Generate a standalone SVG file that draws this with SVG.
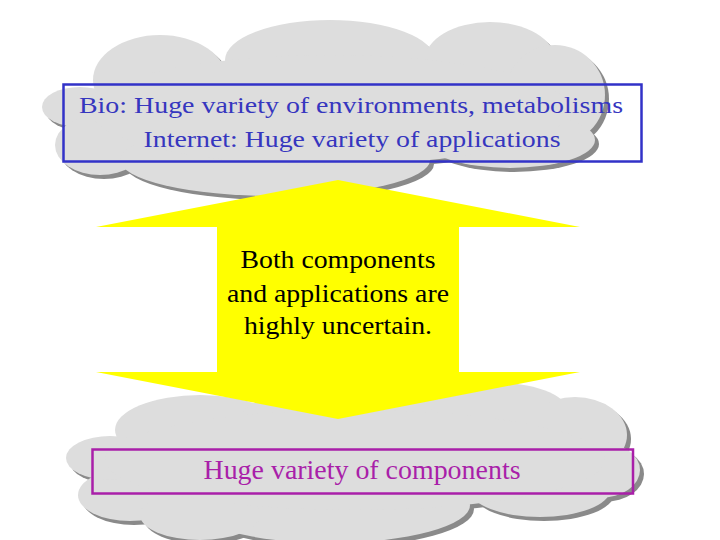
<svg xmlns="http://www.w3.org/2000/svg" width="720" height="540" viewBox="0 0 720 540">
<style>
.serif{font-family:"Liberation Serif","Times New Roman",serif;text-anchor:middle}
.blue{fill:#3636bf}
.mag{fill:#a91fa9}
.blk{fill:#000}
</style>
<defs>
<g id="topCloudShape">
<ellipse cx="80" cy="107" rx="38" ry="20"/>
<ellipse cx="100" cy="145" rx="45" ry="30"/>
<ellipse cx="160" cy="80" rx="67" ry="45"/>
<ellipse cx="330" cy="60" rx="105" ry="40"/>
<ellipse cx="490" cy="60" rx="65" ry="38"/>
<ellipse cx="555" cy="95" rx="50" ry="50"/>
<ellipse cx="510" cy="140" rx="85" ry="28"/>
<ellipse cx="275" cy="160" rx="155" ry="36"/>
<ellipse cx="330" cy="110" rx="240" ry="55"/>
</g>
<g id="bottomCloudShape">
<ellipse cx="200" cy="430" rx="85" ry="35"/>
<ellipse cx="350" cy="420" rx="110" ry="35"/>
<ellipse cx="500" cy="415" rx="70" ry="32"/>
<ellipse cx="575" cy="435" rx="52" ry="38"/>
<ellipse cx="600" cy="470" rx="40" ry="28"/>
<ellipse cx="540" cy="490" rx="70" ry="27"/>
<ellipse cx="330" cy="505" rx="140" ry="38"/>
<ellipse cx="130" cy="495" rx="52" ry="26"/>
<ellipse cx="110" cy="458" rx="44" ry="22"/>
<ellipse cx="200" cy="515" rx="60" ry="25"/>
<ellipse cx="355" cy="460" rx="250" ry="50"/>
</g>
</defs>
<rect width="720" height="540" fill="#ffffff"/>

<g id="cloud-top">
<use href="#topCloudShape" fill="#8a8a8a" transform="translate(4,4)"/>
<use href="#topCloudShape" fill="#dddddd"/>
</g>

<g id="cloud-bottom">
<use href="#bottomCloudShape" fill="#8a8a8a" transform="translate(4,4)"/>
<use href="#bottomCloudShape" fill="#dddddd"/>
</g>

<g id="connectors">
<g id="double-arrow">
<polygon points="338,180 580,227 459,227 459,372 580,372 338,419 96,372 217,372 217,227 96,227" fill="#ffff00"/>
</g>
</g>

<g id="arrow-label">
<text class="serif blk" x="338" y="268" font-size="25" textLength="195" lengthAdjust="spacingAndGlyphs">Both components</text>
<text class="serif blk" x="338" y="302" font-size="25" textLength="222" lengthAdjust="spacingAndGlyphs">and applications are</text>
<text class="serif blk" x="338" y="334" font-size="25" textLength="188" lengthAdjust="spacingAndGlyphs">highly uncertain.</text>
</g>

<g id="applications-box">
<rect x="63.5" y="84.5" width="578" height="77" fill="none" stroke="#3232c8" stroke-width="2.5"/>
<text class="serif blue" x="351" y="113" font-size="24" textLength="544" lengthAdjust="spacingAndGlyphs">Bio: Huge variety of environments, metabolisms</text>
<text class="serif blue" x="352" y="147" font-size="24" textLength="417" lengthAdjust="spacingAndGlyphs">Internet: Huge variety of applications</text>
</g>

<g id="components-box">
<rect x="92.5" y="449.5" width="540.5" height="44" fill="none" stroke="#a91fa9" stroke-width="2.5"/>
<text class="serif mag" x="362" y="479" font-size="28" textLength="317" lengthAdjust="spacingAndGlyphs">Huge variety of components</text>
</g>
</svg>
